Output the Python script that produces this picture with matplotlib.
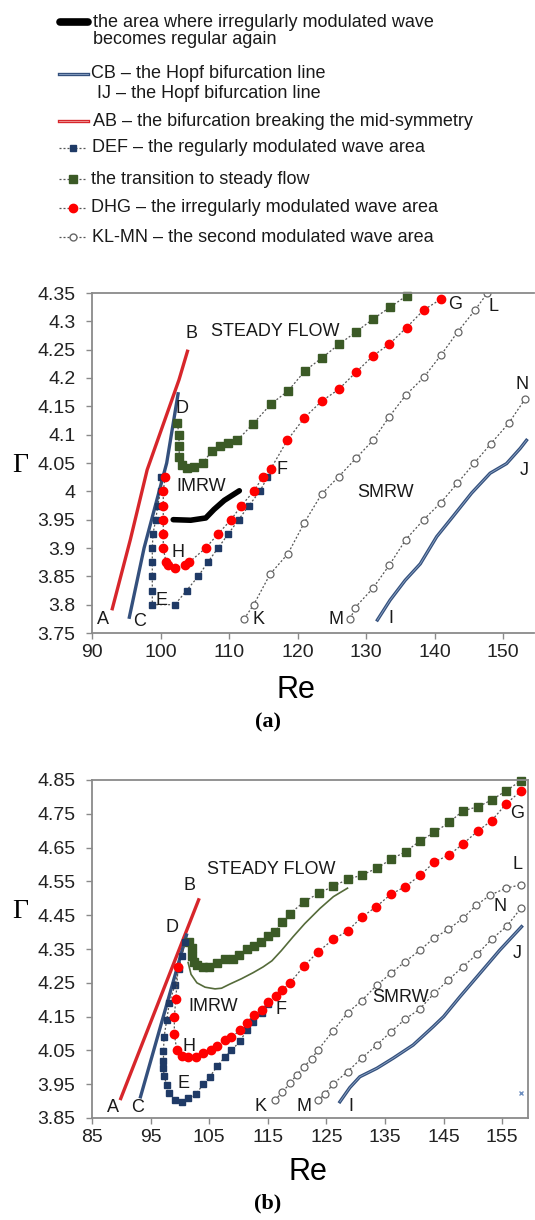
import matplotlib.pyplot as plt
from matplotlib.lines import Line2D
from matplotlib.ticker import FuncFormatter

plt.rcParams['font.family'] = ['Liberation Sans', 'DejaVu Sans']

# ---------------- panel (a) ----------------
a_AB_re = [92.9, 95.6, 98.05, 102.7, 104.0]
a_AB_g = [3.79, 3.915, 4.038, 4.197, 4.25]
a_CB_re = [95.4, 97.6, 100.9, 102.6]
a_CB_g = [3.775, 3.9, 4.05, 4.175]
a_IJ_re = [131.65, 133.5, 135.7, 137.9, 140.3, 142.7, 145.4, 148.1, 150.5, 152.5, 153.4]
a_IJ_g = [3.773, 3.808, 3.843, 3.872, 3.92, 3.956, 3.997, 4.032, 4.049, 4.076, 4.09]
a_black_re = [101.85, 104.4, 106.6, 107.8, 109.3, 111.5]
a_black_g = [3.95, 3.949, 3.953, 3.968, 3.984, 4.001]
a_DEF_re = [100.0, 100.0, 99.6, 99.3, 98.9, 98.8, 98.8, 98.8, 98.8, 98.8,
            102.1, 103.8, 105.5, 106.9, 108.4, 109.9, 111.4, 112.9, 114.5, 115.6]
a_DEF_g = [4.025, 4.0, 3.975, 3.95, 3.925, 3.9, 3.875, 3.85, 3.825, 3.8,
           3.8, 3.825, 3.85, 3.875, 3.9, 3.925, 3.95, 3.975, 4.0, 4.025]
a_DHG_re = [100.66, 100.4, 100.4, 100.4, 100.4, 100.4, 100.8, 101.1, 102.1, 103.6, 104.2,
            106.6, 108.4, 110.3, 111.8, 113.6, 114.9, 116.1, 118.5, 121.0, 123.5, 126.0,
            128.5, 131.0, 133.4, 135.9, 138.4, 140.9]
a_DHG_g = [4.025, 4.0, 3.975, 3.95, 3.925, 3.9, 3.875, 3.87, 3.864, 3.87, 3.875,
           3.9, 3.925, 3.95, 3.975, 4.0, 4.025, 4.04, 4.09, 4.13, 4.159, 4.18,
           4.21, 4.239, 4.26, 4.289, 4.32, 4.339]
a_steady_re = [102.45, 102.7, 102.7, 102.75, 103.1, 103.8, 104.9, 106.15, 107.5, 108.7,
               109.9, 111.2, 113.5, 116.1, 118.6, 121.1, 123.5, 126.1, 128.5, 131.0,
               133.5, 135.9]
a_steady_g = [4.12, 4.10, 4.08, 4.061, 4.046, 4.042, 4.043, 4.05, 4.071, 4.08,
              4.085, 4.09, 4.119, 4.154, 4.177, 4.213, 4.235, 4.26, 4.281, 4.304,
              4.325, 4.345]
a_KL_re = [112.2, 113.6, 116.0, 118.6, 121.0, 123.5, 126.0, 128.5, 131.0, 133.4,
           135.8, 138.4, 140.9, 143.4, 145.9, 147.7]
a_KL_g = [3.775, 3.80, 3.854, 3.89, 3.945, 3.995, 4.026, 4.058, 4.09, 4.132,
          4.17, 4.201, 4.24, 4.282, 4.32, 4.35]
a_MN_re = [127.7, 128.4, 131.0, 133.4, 135.8, 138.4, 140.9, 143.3, 145.8, 148.2, 150.8, 153.2]
a_MN_g = [3.775, 3.795, 3.829, 3.87, 3.915, 3.95, 3.98, 4.014, 4.05, 4.084, 4.12, 4.163]

a_labels = [("A", 91.65, 3.773), ("C", 97.0, 3.77), ("E", 100.2, 3.808), ("H", 102.6, 3.892),
            ("F", 117.7, 4.038), ("K", 114.3, 3.773), ("IMRW", 106.0, 4.008),
            ("D", 103.2, 4.146), ("B", 104.45, 4.278), ("STEADY FLOW", 116.7, 4.282),
            ("G", 143.0, 4.329), ("L", 148.6, 4.326), ("N", 152.7, 4.188),
            ("SMRW", 132.8, 3.998), ("M", 125.6, 3.773), ("I", 133.6, 3.775), ("J", 153.0, 4.036)]

# ---------------- panel (b) ----------------
b_AB_re = [89.8, 103.3]
b_AB_g = [3.903, 4.50]
b_CB_re = [93.2, 101.2]
b_CB_g = [3.908, 4.396]
b_IJ_re = [127.3, 129.0, 130.7, 133.6, 136.4, 139.8, 143.2, 145.0, 147.8, 151.2, 154.6, 158.3]
b_IJ_g = [3.898, 3.94, 3.972, 3.997, 4.027, 4.066, 4.12, 4.15, 4.209, 4.278, 4.347, 4.416]
b_olive_re = [101.4, 101.9, 102.9, 104.3, 106.0, 107.1, 108.5, 110.5, 112.5, 114.2,
              115.7, 117.3, 119.3, 121.3, 123.9, 126.2, 128.6]
b_olive_g = [4.31, 4.275, 4.25, 4.237, 4.232, 4.234, 4.246, 4.262, 4.28, 4.297,
             4.315, 4.345, 4.386, 4.425, 4.47, 4.505, 4.53]
b_DEF_re = [100.9, 100.3, 99.8, 99.16, 98.2, 97.75, 97.3, 97.2, 97.2, 97.2, 97.3, 97.75,
            98.2, 99.16, 100.3, 101.4, 102.7, 104.0, 105.1, 106.4, 107.7, 108.8, 110.3,
            111.4, 112.5, 114.0, 115.1]
b_DEF_g = [4.37, 4.33, 4.29, 4.243, 4.191, 4.14, 4.09, 4.048, 4.02, 3.997, 3.974, 3.948,
           3.925, 3.903, 3.898, 3.908, 3.92, 3.95, 3.972, 4.004, 4.031, 4.05, 4.078,
           4.11, 4.135, 4.16, 4.187]
b_DHG_re = [99.7, 99.3, 99.05, 99.05, 99.45, 100.3, 101.4, 102.7, 104.0, 105.25, 106.4,
            107.7, 108.8, 110.3, 111.4, 112.6, 114.0, 115.1, 116.4, 117.5, 118.8, 121.2,
            123.6, 126.2, 128.6, 131.0, 133.5, 136.0, 138.4, 141.0, 143.4, 146.0, 148.3,
            150.9, 153.2, 155.65, 158.2]
b_DHG_g = [4.298, 4.201, 4.15, 4.10, 4.051, 4.033, 4.031, 4.031, 4.041, 4.051, 4.063,
           4.081, 4.089, 4.11, 4.132, 4.155, 4.17, 4.194, 4.211, 4.229, 4.25, 4.30,
           4.342, 4.379, 4.403, 4.444, 4.475, 4.512, 4.534, 4.568, 4.607, 4.629, 4.661,
           4.70, 4.73, 4.779, 4.818]
b_steady_re = [101.6, 102.0, 102.1, 102.45, 103.0, 103.9, 105.0, 106.3, 107.7, 109.0,
               110.1, 111.4, 112.6, 113.8, 115.1, 116.2, 117.5, 118.75, 121.2, 123.7,
               126.2, 128.6, 131.1, 133.6, 136.0, 138.5, 141.0, 143.4, 146.0, 148.3,
               150.9, 153.2, 155.65, 158.2]
b_steady_g = [4.372, 4.352, 4.33, 4.312, 4.303, 4.298, 4.298, 4.308, 4.32, 4.32,
              4.332, 4.349, 4.359, 4.372, 4.388, 4.401, 4.43, 4.454, 4.49, 4.515,
              4.536, 4.556, 4.569, 4.589, 4.615, 4.638, 4.67, 4.695, 4.725, 4.759,
              4.771, 4.791, 4.818, 4.848]
b_KL_re = [116.2, 117.5, 118.8, 119.9, 121.2, 122.5, 123.6, 126.1, 128.6, 131.0, 133.6,
           136.0, 138.4, 141.0, 143.4, 145.8, 148.3, 150.6, 153.0, 155.65, 158.2]
b_KL_g = [3.903, 3.927, 3.953, 3.977, 4.002, 4.026, 4.052, 4.107, 4.161, 4.197, 4.243,
          4.278, 4.312, 4.347, 4.383, 4.408, 4.441, 4.48, 4.51, 4.53, 4.54]
b_MN_re = [123.6, 124.8, 126.1, 128.6, 131.0, 133.6, 136.0, 138.4, 140.9, 143.4, 145.8,
           148.3, 150.75, 153.2, 155.8, 158.2]
b_MN_g = [3.903, 3.921, 3.95, 3.987, 4.027, 4.066, 4.105, 4.142, 4.172, 4.219, 4.258,
          4.298, 4.335, 4.379, 4.418, 4.471]
b_stray = (158.2, 3.923)

b_labels = [("A", 88.6, 3.88), ("C", 92.7, 3.88), ("E", 100.6, 3.953), ("H", 101.6, 4.063),
            ("IMRW", 105.7, 4.18), ("F", 117.25, 4.17), ("K", 113.8, 3.883),
            ("D", 98.6, 4.414), ("B", 101.7, 4.539), ("STEADY FLOW", 115.6, 4.584),
            ("G", 157.6, 4.751), ("L", 157.6, 4.599), ("N", 154.6, 4.475), ("J", 157.6, 4.337),
            ("SMRW", 137.6, 4.207), ("M", 121.2, 3.883), ("I", 129.1, 3.883)]

legend_texts = ["the area where irregularly modulated wave\nbecomes regular again",
                "CB \u2013 the Hopf bifurcation line",
                "IJ \u2013 the Hopf bifurcation line",
                "AB \u2013 the bifurcation breaking the mid-symmetry",
                "DEF \u2013 the regularly modulated wave area",
                "the transition to steady flow",
                "DHG \u2013 the irregularly modulated wave area",
                "KL-MN \u2013 the second modulated wave area"]

RED = '#d7262b'
BLUE = '#34507d'
NAVY = '#1f3a66'
GREEN = '#3b5a26'
DOT = dict(linestyle=(0, (1.6, 1.6)), color='#555555', linewidth=0.9)

W, H = 535, 1220
fig = plt.figure(figsize=(W / 100, H / 100), dpi=100)


def pix_axes(left, top, right, bottom):
    return fig.add_axes([left / W, 1 - bottom / H, (right - left) / W, (bottom - top) / H])


def style(ax, right_spine):
    for s in ['left', 'bottom', 'top', 'right']:
        ax.spines[s].set_color('#8a8a8a')
        ax.spines[s].set_linewidth(1.3)
    ax.spines['right'].set_visible(right_spine)
    ax.tick_params(direction='out', length=4, width=1, color='#8a8a8a',
                   labelsize=14, labelcolor='#222222')
    ax.tick_params(axis='y', pad=8)
    ax.tick_params(axis='x', pad=4)
    ax.yaxis.set_major_formatter(FuncFormatter(lambda v, p: f"{v:g}"))


def draw(ax, d):
    ax.plot(d['AB'][0], d['AB'][1], color=RED, lw=2.4, solid_capstyle='butt')
    ax.plot(d['CB'][0], d['CB'][1], color=BLUE, lw=2.4, solid_capstyle='butt')
    ax.plot(d['IJ'][0], d['IJ'][1], color=BLUE, lw=2.4)
    ax.plot(d['IJ'][0], d['IJ'][1], color='#8ea6c6', lw=0.6)
    ax.plot(d['steady'][0], d['steady'][1], marker='s', ms=5.5, mfc=GREEN, mec=GREEN,
            **DOT, clip_on=False)
    ax.plot(d['DEF'][0], d['DEF'][1], marker='s', ms=5, mfc=NAVY, mec=NAVY, **DOT)
    ax.plot(d['DHG'][0], d['DHG'][1], marker='o', ms=6, mfc='#ff0000', mec='#ff0000', **DOT)
    for k in ['KL', 'MN']:
        ax.plot(d[k][0], d[k][1], marker='o', ms=5, mfc='white', mec='#666666',
                mew=0.9, **DOT)
    for s, x, y in d['labels']:
        ax.text(x, y, s, fontsize=13, ha='center', va='center', color='#1a1a1a')


# panel (a)
ax_a = pix_axes(92, 293, 534, 633)
style(ax_a, False)
draw(ax_a, {'AB': (a_AB_re, a_AB_g), 'CB': (a_CB_re, a_CB_g), 'IJ': (a_IJ_re, a_IJ_g),
            'steady': (a_steady_re, a_steady_g), 'DEF': (a_DEF_re, a_DEF_g),
            'DHG': (a_DHG_re, a_DHG_g), 'KL': (a_KL_re, a_KL_g), 'MN': (a_MN_re, a_MN_g),
            'labels': a_labels})
ax_a.plot(a_black_re, a_black_g, color='black', lw=4, solid_capstyle='round')
ax_a.set_xlim(90, 154.5)
ax_a.set_ylim(3.75, 4.35)
ax_a.set_xticks(range(90, 151, 10))
ax_a.set_yticks([3.75 + 0.05 * i for i in range(13)])

# panel (b)
ax_b = pix_axes(92, 780, 528, 1118)
style(ax_b, True)
draw(ax_b, {'AB': (b_AB_re, b_AB_g), 'CB': (b_CB_re, b_CB_g), 'IJ': (b_IJ_re, b_IJ_g),
            'steady': (b_steady_re, b_steady_g), 'DEF': (b_DEF_re, b_DEF_g),
            'DHG': (b_DHG_re, b_DHG_g), 'KL': (b_KL_re, b_KL_g), 'MN': (b_MN_re, b_MN_g),
            'labels': b_labels})
ax_b.plot(b_olive_re, b_olive_g, color='#556b3a', lw=1.2)
ax_b.plot([b_stray[0]], [b_stray[1]], marker='x', ms=3, color='#6f8fc0', mew=1)
ax_b.set_xlim(85, 159.4)
ax_b.set_ylim(3.85, 4.85)
ax_b.set_xticks(range(85, 156, 10))
ax_b.set_yticks([3.85 + 0.1 * i for i in range(11)])

# axis titles and panel tags
for ytxt, retxt in [(466, (296, 690)), (912, (308, 1172))]:
    fig.text(20 / W, 1 - ytxt / H, "\u0393", fontsize=20, family='Liberation Serif',
             ha='center', va='center')
    fig.text(retxt[0] / W, 1 - retxt[1] / H, "Re", fontsize=22, ha='center', va='center')
fig.text(268 / W, 1 - 722 / H, "(a)", fontsize=16, family='Liberation Serif',
         weight='bold', ha='center', va='center')
fig.text(268 / W, 1 - 1203 / H, "(b)", fontsize=16, family='Liberation Serif',
         weight='bold', ha='center', va='center')

# legend drawn at the top of the figure


def fx(p):
    return p / W


def fy(p):
    return 1 - p / H


tr = fig.transFigure
fig.add_artist(Line2D([fx(60), fx(88)], [fy(22), fy(22)], color='black', lw=5.5,
                      solid_capstyle='round', transform=tr))
fig.add_artist(Line2D([fx(59), fx(88)], [fy(74), fy(74)], color=BLUE, lw=2.4, transform=tr))
fig.add_artist(Line2D([fx(59), fx(88)], [fy(74), fy(74)], color='#8ea6c6', lw=0.6, transform=tr))
fig.add_artist(Line2D([fx(59), fx(88)], [fy(121), fy(121)], color=RED, lw=2.4, transform=tr))
fig.add_artist(Line2D([fx(59), fx(88)], [fy(121), fy(121)], color='#f0a0a0', lw=0.6, transform=tr))
leg_marks = [(148, 's', NAVY, NAVY, 5), (179, 's', GREEN, GREEN, 5.5),
             (208, 'o', '#ff0000', '#ff0000', 6), (237, 'o', 'white', '#666666', 5)]
for yy, m, fc, ec, ms in leg_marks:
    fig.add_artist(Line2D([fx(59), fx(86)], [fy(yy), fy(yy)], transform=tr, **DOT))
    fig.add_artist(Line2D([fx(72.5)], [fy(yy)], marker=m, ms=ms, mfc=fc, mec=ec,
                          linestyle='none', transform=tr))

leg_pos = [(93, 31), (91, 74), (97, 93), (93, 121), (92, 148), (91, 179), (91, 208), (92, 237)]
for (px, py), s in zip(leg_pos, legend_texts):
    fig.text(fx(px), fy(py), s, fontsize=13, ha='left', va='center', color='#1a1a1a',
             linespacing=1.0)

fig.savefig('out.png', dpi=100)
